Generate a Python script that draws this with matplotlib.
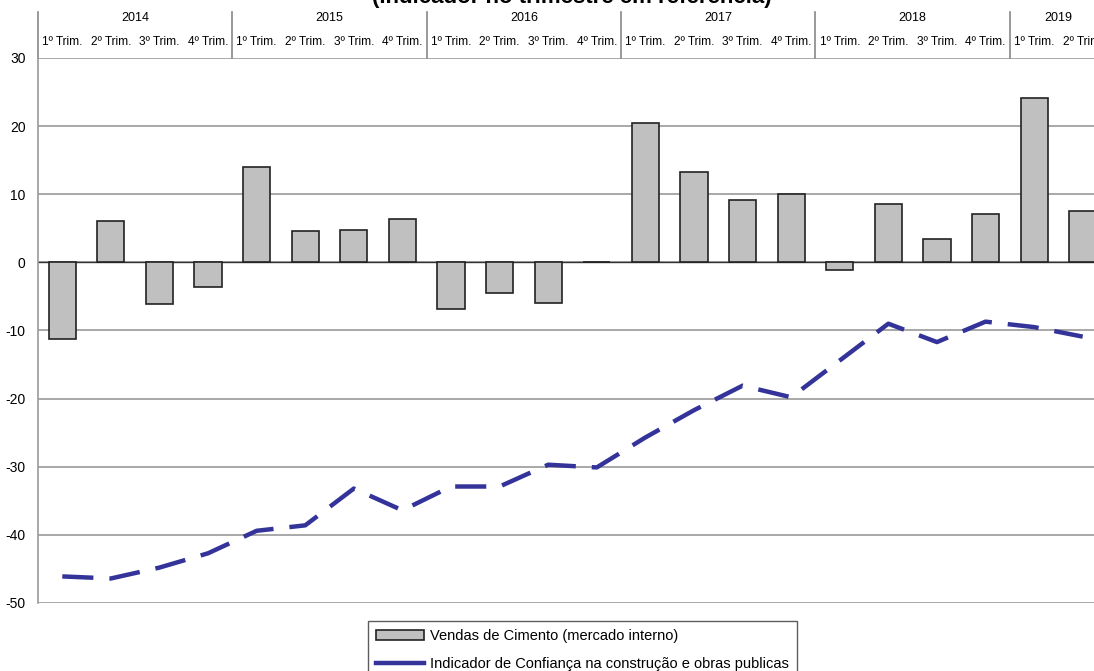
import matplotlib.pyplot as plt
import matplotlib.transforms as mtransforms
import numpy as np

plt.rcParams['font.family'] = ['Liberation Sans', 'DejaVu Sans']
plt.rcParams['axes.unicode_minus'] = False

# quarterly data, 2014 Q1 .. 2019 Q2
years = ['2014', '2015', '2016', '2017', '2018', '2019']
quarters_per_year = [4, 4, 4, 4, 4, 2]
quarter_labels = ['1º Trim.', '2º Trim.', '3º Trim.', '4º Trim.']

vendas = [-11.3, 6.0, -6.1, -3.6,
          14.0, 4.6, 4.7, 6.3,
          -6.8, -4.5, -6.0, 0.0,
          20.5, 13.2, 9.2, 10.0,
          -1.1, 8.6, 3.5, 7.1,
          24.1, 7.6]

confianca = [-46.1, -46.4, -44.8, -42.7,
             -39.4, -38.6, -33.2, -36.4,
             -32.9, -32.9, -29.7, -30.1,
             -25.7, -21.7, -18.1, -19.8,
             -14.4, -9.0, -11.7, -8.7,
             -9.5, -10.9]

x = np.arange(len(vendas))

fig = plt.figure(figsize=(10.94, 6.71), dpi=100)
ax = fig.add_axes([38 / 1094, 68 / 671, 1069 / 1094, 545 / 671])

bars = ax.bar(x, vendas, width=0.56, color='#c0c0c0', edgecolor='#222222',
              linewidth=1.2, zorder=3, label='Vendas de Cimento (mercado interno)')
line, = ax.plot(x, confianca, color='#333399', linewidth=3.2, dashes=(7, 3.6),
                zorder=4, label='Indicador de Confiança na construção e obras publicas')
ax.axhline(0, color='#333333', linewidth=1.0, zorder=2)

ax.set_xlim(-0.5, len(vendas) - 0.5)
ax.set_ylim(-50, 30)
ax.set_yticks(range(-50, 31, 10))
ax.yaxis.grid(True, color='#999999', linewidth=1.2, zorder=0)
ax.set_xticks([])
ax.tick_params(axis='y', length=0, labelsize=10, pad=9)
for s in ['top', 'right', 'bottom']:
    ax.spines[s].set_visible(False)
ax.spines['left'].set_color('#999999')
ax.spines['left'].set_linewidth(1.2)

# year / quarter header above the plot
trans = mtransforms.blended_transform_factory(ax.transData, ax.transAxes)
start = 0
for yr, n in zip(years, quarters_per_year):
    for q in range(n):
        ax.text(start + q, 1.029, quarter_labels[q], transform=trans,
                ha='center', va='center', fontsize=8.6)
    ax.text(start + (n - 1) / 2, 1.073, yr, transform=trans,
            ha='center', va='center', fontsize=9)
    ax.plot([start - 0.5, start - 0.5], [1.0, 1.084], transform=trans,
            color='#888888', linewidth=1.2, clip_on=False)
    start += n

fig.text(0.523, 1.004, '(Indicador no trimestre em referência)',
         ha='center', va='center', fontsize=16, fontweight='bold')

leg = ax.legend([bars, line], [bars.get_label(), line.get_label()],
                loc='upper left', bbox_to_anchor=(368 / 1094, 50 / 671),
                bbox_transform=fig.transFigure, frameon=True, fancybox=False,
                edgecolor='#333333', fontsize=10.5, handlelength=3.3,
                handleheight=0.6, labelspacing=0.95, borderpad=0.55,
                borderaxespad=0, handletextpad=0.4)
leg.get_frame().set_linewidth(1.0)
leg.get_lines()[0].set_linestyle('-')

fig.savefig('out.png', dpi=100)
